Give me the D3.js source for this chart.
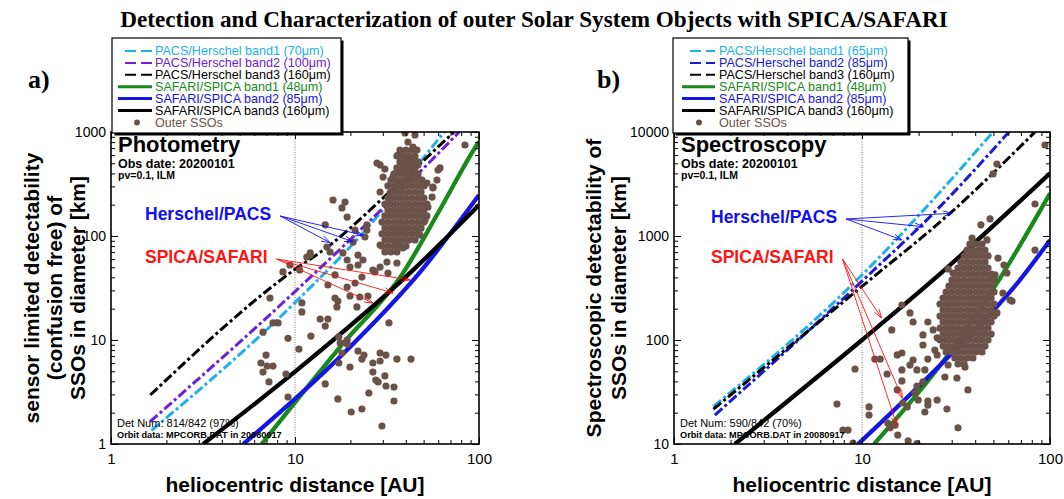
<!DOCTYPE html>
<html>
<head>
<meta charset="utf-8">
<script src="https://cdn.jsdelivr.net/npm/d3@7"></script>
<style>
body { margin: 0; background: #fff; }
text { font-family: "Liberation Sans", Arial, Helvetica, sans-serif; }
</style>
</head>
<body>
<svg id="chart" width="1064" height="499"></svg>
<script>
var TITLE = "Detection and Characterization of outer Solar System Objects with SPICA/SAFARI";

// tick labels
var xTickLabels = [1, 10, 100];
var photYTicks  = [1, 10, 100, 1000];
var specYTicks  = [10, 100, 1000, 10000];

// legend labels
var photLegend = ["PACS/Herschel band1 (70\u03bcm)", "PACS/Herschel band2 (100\u03bcm)", "PACS/Herschel band3 (160\u03bcm)",
                  "SAFARI/SPICA band1 (48\u03bcm)", "SAFARI/SPICA band2 (85\u03bcm)", "SAFARI/SPICA band3 (160\u03bcm)", "Outer SSOs"];
var specLegend = ["PACS/Herschel band1 (65\u03bcm)", "PACS/Herschel band2 (85\u03bcm)", "PACS/Herschel band3 (160\u03bcm)",
                  "SAFARI/SPICA band1 (48\u03bcm)", "SAFARI/SPICA band2 (85\u03bcm)", "SAFARI/SPICA band3 (160\u03bcm)", "Outer SSOs"];

// detection limits, [distance AU, diameter km]
var photPacs1   = [[1.66, 1.35], [10, 22.9], [24.5, 117], [64, 977], [67.6, 1100]];
var photPacs2   = [[1.63, 1.64], [10.2, 30.2], [47.8, 415], [56.5, 558], [78, 1000]];
var photPacs3   = [[1.635, 2.96], [9.6, 45.4], [15.5, 81.8], [32.8, 267], [73.1, 1000]];
var photSafari1 = [[6.6, 1], [17.6, 8.6], [38.6, 44], [61.4, 180], [97.3, 750], [100, 807]];
var photSafari2 = [[5.24, 1], [17.6, 6.9], [48.8, 47], [100, 248]];
var photSafari3 = [[3.17, 1], [10, 4.96], [43.8, 47], [100, 199]];

var specPacs1   = [[1.62, 22.9], [10.2, 438], [22.1, 1915], [49.9, 10070]];
var specPacs2   = [[1.65, 19.0], [10.6, 406], [26.0, 1915], [61, 10200]];
var specPacs3   = [[1.62, 21.6], [11.0, 378], [29.4, 1652], [83.2, 10000]];
var specSafari1 = [[11.6, 10], [28.2, 69], [54.2, 392], [100, 2570]];
var specSafari2 = [[9.55, 10], [30.6, 77], [69.2, 378], [100, 912]];
var specSafari3 = [[2.11, 10], [10, 100], [23.9, 378], [100, 4010]];

// outer SSOs, photometry panel: dense core as [D, [r...]] rows, then single objects [r, D]
var photCore = [
    [671, [37.2, 40.1, 43.2]],
    [588, [35.8, 38.6, 41.6, 44.9]],
    [515, [37.2, 40.1, 43.2, 46.6]],
    [451, [35.8, 38.6, 41.6, 44.9]],
    [395, [34.5, 37.2, 40.1, 43.2, 46.6]],
    [345, [33.2, 35.8, 38.6, 41.6, 44.9, 48.4]],
    [303, [32.0, 34.5, 37.2, 40.1, 43.2, 46.6, 50.2]],
    [265, [33.2, 35.8, 38.6, 41.6, 44.9, 48.4]],
    [232, [32.0, 34.5, 37.2, 40.1, 43.2, 46.6, 50.2]],
    [203, [30.8, 33.2, 35.8, 38.6, 41.6, 44.9, 48.4, 52.1]],
    [178, [32.0, 34.5, 37.2, 40.1, 43.2, 46.6, 50.2]],
    [156, [30.8, 33.2, 35.8, 38.6, 41.6, 44.9, 48.4, 52.1]],
    [136, [29.7, 32.0, 34.5, 37.2, 40.1, 43.2, 46.6, 50.2]],
    [119, [30.8, 33.2, 35.8, 38.6, 41.6, 44.9, 48.4]],
    [105, [29.7, 32.0, 34.5, 37.2, 40.1, 43.2, 46.6]],
    [91.6, [30.8, 33.2, 35.8, 38.6, 41.6, 44.9]],
    [80.1, [29.7, 32.0, 34.5, 37.2, 40.1]],
    [70.2, [30.8, 33.2, 35.8]]
];
var photSingles = [
    [39.6, 980], [44.9, 936], [41.1, 801], [43.8, 717], [46.0, 671], [37.2, 601], [41.1, 575], [43.8, 538],
    [38.6, 503], [42.2, 460], [46.6, 482], [37.2, 403], [41.1, 386], [44.9, 369], [49.0, 345],
    [29.0, 482], [30.1, 369], [34.1, 369], [38.2, 431], [59.9, 431], [59.1, 345], [52.1, 323], [56.2, 290],
    [55.6, 237], [83.9, 750], [29.0, 265], [32.8, 259], [16.1, 222], [18.7, 212], [18.0, 186], [19.2, 152],
    [14.6, 128], [24.6, 128], [24.6, 114], [24.0, 97.8], [20.7, 87.5], [22.0, 65.6], [23.4, 58.8], [19.2, 58.8],
    [19.9, 50.3], [22.0, 52.6], [12.1, 65.6], [11.6, 62.8], [26.5, 47.1], [29.0, 50.3], [31.6, 56.2], [35.8, 55.0],
    [38.6, 76.7], [21.2, 114], [14.9, 78.4], [15.5, 70.2], [12.1, 68.7], [18.2, 68.7], [9.39, 52.6], [10.6, 47.1],
    [8.6, 45.1], [27.9, 503], [30.8, 441], [36.3, 601], [61.4, 451], [56.2, 296], [52.8, 190], [50.9, 142],
    [47.8, 102], [35.8, 85.7], [29.0, 81.9],
    [16.5, 42.2], [15.1, 33.8], [19.2, 32.3], [21.2, 35.3], [23.1, 40.3], [27.2, 45.1], [32.0, 44.1], [7.31, 25.3],
    [16.5, 25.3], [17.1, 23.7], [16.9, 20.8], [19.9, 26.5], [21.7, 20.8], [22.5, 25.9], [24.9, 26.5], [10.9, 22.7],
    [10.9, 18.6], [13.7, 15.9], [15.1, 15.9], [14.6, 13.6], [7.59, 14.6], [8.09, 14.6], [6.70, 11.9], [9.16, 10.4],
    [12.2, 10.9], [32.4, 14.6], [17.3, 10.7], [19.2, 10], [17.6, 9.36], [19.2, 9.16], [10.5, 8.19], [22.0, 7.84],
    [23.7, 7.17], [23.1, 6.56], [18.0, 7.50], [17.3, 6.01], [19.9, 5.50], [6.96, 7.17], [6.53, 6.01], [7.05, 5.62],
    [7.59, 5.62], [6.70, 4.92], [26.5, 6.01], [29.0, 7.50], [31.2, 7.17], [29.0, 6.28], [35.8, 6.56], [42.7, 6.56],
    [26.5, 4.92], [30.8, 4.51], [27.5, 4.12], [28.3, 3.95], [31.2, 3.61], [34.5, 3.53], [8.93, 4.71], [7.22, 3.95],
    [14.6, 3.78], [25.2, 3.09], [9.16, 2.83], [17.1, 2.71], [34.5, 2.59], [23.1, 2.17], [20.2, 2.03], [29.7, 1.49]
];

// outer SSOs, spectroscopy panel
var specCore = [
    [838, [37.5, 40.4, 43.5]],
    [733, [36.2, 38.9, 41.9, 45.1]],
    [643, [34.9, 37.5, 40.4, 43.5, 46.8]],
    [562, [33.6, 36.2, 38.9, 41.9, 45.1]],
    [492, [32.4, 34.9, 37.5, 40.4, 43.5, 46.8]],
    [431, [31.2, 33.6, 36.2, 38.9, 41.9, 45.1, 48.6]],
    [377, [30.1, 32.4, 34.9, 37.5, 40.4, 43.5, 46.8, 50.4]],
    [330, [29.0, 31.2, 33.6, 36.2, 38.9, 41.9, 45.1, 48.6]],
    [289, [28.0, 30.1, 32.4, 34.9, 37.5, 40.4, 43.5, 46.8, 50.4]],
    [253, [27.0, 29.0, 31.2, 33.6, 36.2, 38.9, 41.9, 45.1, 48.6]],
    [222, [26.0, 28.0, 30.1, 32.4, 34.9, 37.5, 40.4, 43.5, 46.8, 50.4]],
    [194, [27.0, 29.0, 31.2, 33.6, 36.2, 38.9, 41.9, 45.1, 48.6]],
    [170, [26.0, 28.0, 30.1, 32.4, 34.9, 37.5, 40.4, 43.5, 46.8, 50.4]],
    [149, [27.0, 29.0, 31.2, 33.6, 36.2, 38.9, 41.9, 45.1, 48.6]],
    [130, [26.0, 28.0, 30.1, 32.4, 34.9, 37.5, 40.4, 43.5, 46.8]],
    [114, [27.0, 29.0, 31.2, 33.6, 36.2, 38.9, 41.9, 45.1, 48.6]],
    [100, [26.0, 28.0, 30.1, 32.4, 34.9, 37.5, 40.4, 43.5, 46.8]],
    [87.5, [27.0, 29.0, 31.2, 33.6, 36.2, 38.9, 41.9, 45.1]],
    [76.7, [28.0, 30.1, 32.4, 34.9, 37.5, 40.4, 43.5]],
    [67.1, [31.2, 33.6, 36.2, 38.9]],
    [58.8, [32.4, 34.9]]
];
var specSingles = [
    [16.3, 217], [18.0, 182], [18.7, 149], [22.4, 149], [14.4, 125], [21.1, 112], [23.9, 125], [25.1, 105],
    [21.1, 89.5], [24.4, 80.1], [25.1, 71.8], [16.3, 75.0], [15.4, 71.8], [11.7, 65.6], [12.5, 65.6], [18.7, 64.2],
    [22.4, 65.6], [18.0, 57.5], [19.6, 51.5], [16.3, 51.5], [21.6, 51.5], [9.18, 52.6], [13.6, 47.1], [27.6, 44.1],
    [32.0, 43.1], [35.3, 55.0], [28.7, 57.5], [21.1, 39.5], [19.6, 36.1], [16.3, 40.4], [15.4, 33.1], [36.6, 33.1],
    [19.1, 30.9], [19.9, 26.5], [22.4, 25.9], [25.1, 26.5], [22.4, 23.7], [16.5, 24.8], [17.4, 22.7], [21.6, 20.3],
    [28.3, 21.7], [10.9, 22.7], [10.9, 19.0], [13.7, 15.9], [15.0, 15.2], [14.1, 14.3], [15.5, 12.2], [17.6, 10.7],
    [19.6, 10.1], [32.4, 14.3], [7.36, 24.2], [7.92, 13.6], [8.43, 13.6], [8.96, 10.2],
    [56.2, 283], [62.8, 237], [52.2, 182], [94.0, 7500], [52.2, 4920], [49.8, 3950], [48.0, 1460], [42.9, 1280],
    [83.2, 2030], [83.2, 733], [38.5, 957], [46.2, 916], [52.9, 614], [56.9, 526], [51.0, 422], [28.7, 482],
    [30.5, 441], [59.0, 441], [49.8, 403], [61.3, 242]
];

// arrow targets of the annotations, [r, D]
var photHerschelArrows = [[15.5, 86.3], [20.7, 88.2], [23.5, 102]];
var photSafariArrows   = [[42.2, 37.8], [34.1, 28.3], [26.5, 22.7]];
var specHerschelArrows = [[16.3, 916], [21.2, 1228], [30.0, 1652]];
var specSafariArrows   = [[12.7, 163], [16.4, 27.5], [15.3, 15.2]];

var cCyan = "#1db1e8", cPurple = "#6b22d6", cGreen = "#168a1a", cBlue = "#1515e6", cBlue2 = "#1a1ad2", cBrown = "#6b5249";
var kinds = ["dash", "dash", "dash", "solid", "solid", "solid", "dot"];

var svg = d3.select("#chart");

svg.append("text")
    .attr("x", 534)
    .attr("y", 27)
    .attr("text-anchor", "middle")
    .style("font-family", "'Liberation Serif', 'Times New Roman', serif")
    .style("font-weight", "bold")
    .style("font-size", "23.2px")
    .text(TITLE);

function flatten(core, singles)
{
    var out = [];
    core.forEach(function (row)
    {
        row[1].forEach(function (r) { out.push([r, row[0]]); });
    });
    return out.concat(singles);
}

function arrow(g, x1, y1, x2, y2, color)
{
    var a = Math.atan2(y2 - y1, x2 - x1), len = 9, spread = 0.32;
    g.append("line").attr("x1", x1).attr("y1", y1).attr("x2", x2).attr("y2", y2)
        .attr("stroke", color).attr("stroke-width", 0.9);
    g.append("path")
        .attr("d", "M" + (x2 - len * Math.cos(a - spread)) + "," + (y2 - len * Math.sin(a - spread)) +
                   "L" + x2 + "," + y2 +
                   "L" + (x2 - len * Math.cos(a + spread)) + "," + (y2 - len * Math.sin(a + spread)))
        .attr("fill", "none").attr("stroke", color).attr("stroke-width", 0.9);
}

function drawPanel(p)
{
    var x = d3.scaleLog().domain([1, 100]).range([p.left, p.right]);
    var y = d3.scaleLog().domain([p.yTicks[0], p.yTicks[p.yTicks.length - 1]]).range([p.bottom, p.top]);

    svg.append("clipPath").attr("id", "clip-" + p.id)
        .append("rect")
        .attr("x", p.left).attr("y", p.top)
        .attr("width", p.right - p.left).attr("height", p.bottom - p.top);

    var g = svg.append("g");

    // 10 AU guide
    g.append("line")
        .attr("x1", x(10)).attr("x2", x(10))
        .attr("y1", p.top).attr("y2", p.bottom)
        .attr("stroke", "#777").attr("stroke-width", 1).attr("stroke-dasharray", "1,1.5");

    var plot = g.append("g").attr("clip-path", "url(#clip-" + p.id + ")");

    var line = d3.line()
        .x(function (d) { return x(d[0]); })
        .y(function (d) { return y(d[1]); })
        .curve(d3.curveMonotoneX);

    p.curves.forEach(function (c, i)
    {
        plot.append("path")
            .attr("d", line(c))
            .attr("fill", "none")
            .attr("stroke", p.colors[i])
            .attr("stroke-width", kinds[i] == "dash" ? 3 : 4.3)
            .attr("stroke-dasharray", kinds[i] == "dash" ? "10,3,3,3" : null);
    });

    plot.selectAll("circle")
        .data(p.dots)
        .enter()
        .append("circle")
        .attr("cx", function (d) { return x(d[0]); })
        .attr("cy", function (d) { return y(d[1]); })
        .attr("r", 3.6)
        .attr("fill", cBrown);

    // axes, ticks pointing inwards on all sides
    var xMinor = x.ticks().filter(function (v) { return xTickLabels.indexOf(v) < 0; });
    var yMinor = y.ticks().filter(function (v) { return p.yTicks.indexOf(v) < 0; });

    function addAxis(axis, tx, ty, size)
    {
        var a = g.append("g")
            .attr("transform", "translate(" + tx + "," + ty + ")")
            .call(axis);
        a.select(".domain").remove();
        a.attr("font-size", size || 10);
        return a;
    }
    addAxis(d3.axisBottom(x).tickValues(xTickLabels).tickSize(-7).tickPadding(9).tickFormat(d3.format("d")), 0, p.bottom, 15);
    addAxis(d3.axisBottom(x).tickValues(xMinor).tickSize(-4).tickFormat(""), 0, p.bottom);
    addAxis(d3.axisTop(x).tickValues(xTickLabels).tickSize(-7).tickFormat(""), 0, p.top);
    addAxis(d3.axisTop(x).tickValues(xMinor).tickSize(-4).tickFormat(""), 0, p.top);
    addAxis(d3.axisLeft(y).tickValues(p.yTicks).tickSize(-7).tickPadding(5).tickFormat(d3.format("d")), p.left, 0, 14);
    addAxis(d3.axisLeft(y).tickValues(yMinor).tickSize(-4).tickFormat(""), p.left, 0);
    addAxis(d3.axisRight(y).tickValues(p.yTicks).tickSize(-7).tickFormat(""), p.right, 0);
    addAxis(d3.axisRight(y).tickValues(yMinor).tickSize(-4).tickFormat(""), p.right, 0);

    g.append("rect")
        .attr("x", p.left).attr("y", p.top)
        .attr("width", p.right - p.left).attr("height", p.bottom - p.top)
        .attr("fill", "none").attr("stroke", "#000").attr("stroke-width", 1.6);

    // axis titles
    g.append("text")
        .attr("x", (p.left + p.right) / 2).attr("y", 492)
        .attr("text-anchor", "middle")
        .style("font-weight", "bold").style("font-size", "21px")
        .text("heliocentric distance [AU]");

    p.yTitle.forEach(function (t, i)
    {
        g.append("text")
            .attr("transform", "translate(" + p.yTitleX[i] + "," + (p.top + p.bottom) / 2 + ") rotate(-90)")
            .attr("text-anchor", "middle")
            .style("font-weight", "bold").style("font-size", "21px")
            .text(t);
    });

    g.append("text")
        .attr("x", p.tag[1]).attr("y", 88)
        .style("font-family", "'Liberation Serif', 'Times New Roman', serif")
        .style("font-weight", "bold").style("font-size", "26px")
        .text(p.tag[0]);

    // notes inside the frame
    var tx = p.left + 7;
    g.append("text").attr("x", tx).attr("y", 151.5).style("font-weight", "bold").style("font-size", "22px").text(p.name);
    g.append("text").attr("x", tx).attr("y", 167.5).style("font-weight", "bold").style("font-size", "12.5px").text("Obs date: 20200101");
    g.append("text").attr("x", tx).attr("y", 178.5).style("font-weight", "bold").style("font-size", "10.5px").text("pv=0.1, ILM");
    g.append("text").attr("x", tx - 1).attr("y", 427).style("font-size", "11px").text(p.detNum);
    g.append("text").attr("x", tx - 1).attr("y", 437.5).style("font-weight", "bold").style("font-size", "9.2px").text("Orbit data: MPCORB.DAT in 20080917");

    // annotations with arrows
    [["Herschel/PACS", "#1010f0", p.herschelY, p.herschelArrows],
     ["SPICA/SAFARI", "#ff1414", p.safariY, p.safariArrows]].forEach(function (a)
    {
        var t = g.append("text")
            .attr("x", p.noteX).attr("y", a[2])
            .attr("fill", a[1])
            .style("font-weight", "bold").style("font-size", "17.5px")
            .text(a[0]);
        var ox = p.noteX + t.node().getComputedTextLength() + 9, oy = a[2] - 4;
        a[3].forEach(function (d)
        {
            arrow(g, ox, oy, x(d[0]), y(d[1]), a[1]);
        });
    });

    // legend box with shadow
    var L = p.legend;
    var lg = svg.append("g");
    lg.append("rect").attr("x", L.x + 2.5).attr("y", L.y + 2.5).attr("width", L.w).attr("height", L.h).attr("fill", "#000");
    lg.append("rect").attr("x", L.x).attr("y", L.y).attr("width", L.w).attr("height", L.h)
        .attr("fill", "#fff").attr("stroke", "#000").attr("stroke-width", 1.2);

    p.labels.forEach(function (lab, i)
    {
        var cy = L.y + 13 + i * 11.9;
        if (kinds[i] == "dot")
        {
            lg.append("circle").attr("cx", L.dot).attr("cy", cy).attr("r", 3).attr("fill", p.colors[i]);
        }
        else
        {
            lg.append("line")
                .attr("x1", kinds[i] == "dash" ? L.dashX : L.solidX).attr("x2", L.lineEnd)
                .attr("y1", cy).attr("y2", cy)
                .attr("stroke", p.colors[i])
                .attr("stroke-width", kinds[i] == "dash" ? 2 : 3)
                .attr("stroke-dasharray", kinds[i] == "dash" ? "11,5" : null);
        }
        lg.append("text")
            .attr("x", L.textX).attr("y", cy + 4.4)
            .attr("fill", i == 6 ? cBrown : p.colors[i])
            .style("font-size", "12.6px")
            .text(lab);
    });
}

drawPanel({
    id: "phot", name: "Photometry", tag: ["a)", 28],
    left: 111, right: 479, top: 132, bottom: 444,
    yTicks: photYTicks,
    yTitle: ["sensor limited detectability", "(confusion free) of", "SSOs in diameter [km]"],
    yTitleX: [39, 62, 85],
    curves: [photPacs1, photPacs2, photPacs3, photSafari1, photSafari2, photSafari3],
    colors: [cCyan, cPurple, "#000", cGreen, cBlue, "#000", cBrown],
    labels: photLegend,
    dots: flatten(photCore, photSingles),
    detNum: "Det Num: 814/842 (97%)",
    noteX: 145, herschelY: 220, safariY: 263,
    herschelArrows: photHerschelArrows, safariArrows: photSafariArrows,
    legend: { x: 112, y: 38, w: 229, h: 95, dashX: 125, solidX: 118, lineEnd: 152, dot: 137, textX: 155 }
});

drawPanel({
    id: "spec", name: "Spectroscopy", tag: ["b)", 597],
    left: 674, right: 1050, top: 132, bottom: 444,
    yTicks: specYTicks,
    yTitle: ["Spectroscopic detectability of", "SSOs in diameter [km]"],
    yTitleX: [601, 626],
    curves: [specPacs1, specPacs2, specPacs3, specSafari1, specSafari2, specSafari3],
    colors: [cCyan, cBlue2, "#000", cGreen, cBlue, "#000", cBrown],
    labels: specLegend,
    dots: flatten(specCore, specSingles),
    detNum: "Det Num: 590/842 (70%)",
    noteX: 711, herschelY: 223, safariY: 263,
    herschelArrows: specHerschelArrows, safariArrows: specSafariArrows,
    legend: { x: 673, y: 38, w: 235, h: 95, dashX: 690, solidX: 682, lineEnd: 715, dot: 699, textX: 719 }
});
</script>
</body>
</html>
